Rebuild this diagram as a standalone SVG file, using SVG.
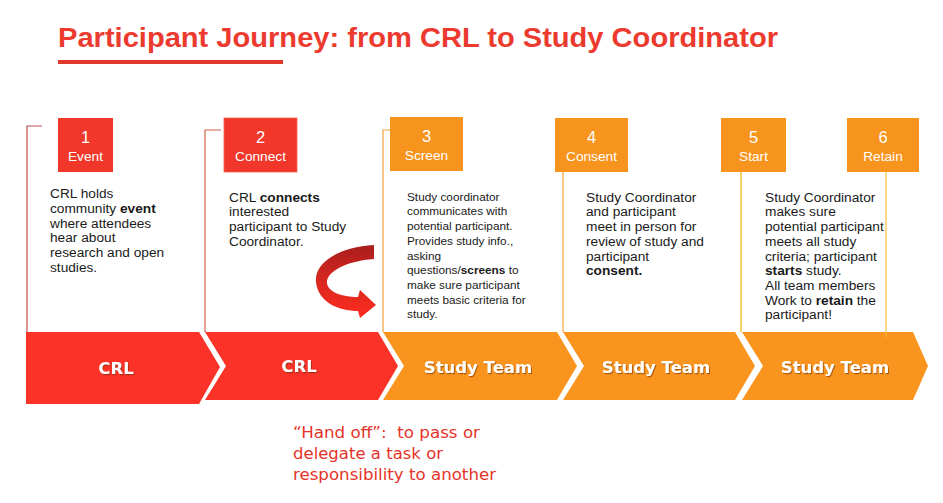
<svg xmlns="http://www.w3.org/2000/svg" width="943" height="503" viewBox="0 0 943 503">
<style>
.title{font-family:"Liberation Sans",Arial,sans-serif;font-weight:bold;font-size:27.5px;fill:#ec3a2f}
.num{font-family:"Liberation Sans",Arial,sans-serif;font-size:16.5px;fill:#fff;text-anchor:middle}
.lab{font-family:"Liberation Sans",Arial,sans-serif;font-size:13.7px;fill:#fff;text-anchor:middle}
.body{font-family:"Liberation Sans",Arial,sans-serif;font-size:13.7px;fill:#1a1a1a}
.small{font-family:"Liberation Sans",Arial,sans-serif;font-size:11.8px;fill:#1a1a1a}
.b{font-weight:bold}
.phase{font-family:"DejaVu Sans",sans-serif;font-weight:bold;font-size:16.5px;fill:#fff;text-anchor:middle}
.hand{font-family:"DejaVu Sans",sans-serif;font-size:16.5px;fill:#e63329;white-space:pre}
.red{fill:#f0372a}
.org{fill:#f7941d}
.cred{fill:#fa3228}
.corg{fill:#f9951e}
.br{fill:none;stroke-width:1.2}
</style>
<defs>
<filter id="sh" x="-10%" y="-20%" width="130%" height="150%">
<feDropShadow dx="1" dy="1.2" stdDeviation="0.6" flood-color="#6b2a00" flood-opacity="0.55"/>
</filter>
<linearGradient id="ag" x1="0" y1="0" x2="0" y2="1">
<stop offset="0" stop-color="#a81d1d"/>
<stop offset="0.45" stop-color="#d4261f"/>
<stop offset="1" stop-color="#ff2d1f"/>
</linearGradient>
</defs>
<rect width="943" height="503" fill="#fff"/>

<g id="title">
<text class="title" x="58" y="47" textLength="720" lengthAdjust="spacingAndGlyphs">Participant Journey: from CRL to Study Coordinator</text>
<rect x="58" y="60" width="225" height="4" fill="#e0392c"/>
</g>

<g id="phase-bar">
<g id="phase1"><polygon class="cred" points="26,332 199,332 220,367 199,404 26,404"/><text class="phase" x="116" y="374" filter="url(#sh)">CRL</text></g>
<g id="phase2"><polygon class="cred" points="205,332 378,332 398,366 378,400 205,400 226,366"/><text class="phase" x="299" y="372" filter="url(#sh)">CRL</text></g>
<g id="phase3"><polygon class="corg" points="383,332 557,332 577,366 557,400 383,400 404,366"/><text class="phase" x="478" y="373" filter="url(#sh)">Study Team</text></g>
<g id="phase4"><polygon class="corg" points="563,332 735,332 755,366 735,400 563,400 584,366"/><text class="phase" x="656" y="373" filter="url(#sh)">Study Team</text></g>
<g id="phase5"><polygon class="corg" points="742,332 913,332 928,366 913,400 742,400 763,366"/><text class="phase" x="835" y="373" filter="url(#sh)">Study Team</text></g>
</g>

<g id="step1">
<polyline class="br" stroke="#c0504d" points="42,126 27,126 27,332"/>
<rect class="red" x="58" y="118" width="55" height="54"/>
<text class="num" x="85.5" y="142.5">1</text>
<text class="lab" x="85.5" y="160.5">Event</text>
<text class="body" x="50">
<tspan x="50" y="198.3">CRL holds</tspan>
<tspan x="50" y="213">community <tspan class="b">event</tspan></tspan>
<tspan x="50" y="227.7">where attendees</tspan>
<tspan x="50" y="242.4">hear about</tspan>
<tspan x="50" y="257.1">research and open</tspan>
<tspan x="50" y="271.8">studies.</tspan>
</text>
</g>

<g id="step2">
<polyline class="br" stroke="#d0604a" points="221,130 205,130 205,332"/>
<rect class="red" x="224" y="118" width="73" height="54" stroke="#f4604a" stroke-width="0.8"/>
<text class="num" x="260.5" y="142.5">2</text>
<text class="lab" x="260.5" y="160.5">Connect</text>
<text class="body">
<tspan x="229" y="201.7">CRL <tspan class="b">connects</tspan></tspan>
<tspan x="229" y="216.4">interested</tspan>
<tspan x="229" y="231.1">participant to Study</tspan>
<tspan x="229" y="245.8">Coordinator.</tspan>
</text>
</g>

<g id="step3">
<polyline class="br" stroke="#f2a23a" points="390,130 383,130 383,332"/>
<rect class="org" x="390" y="117" width="73" height="54"/>
<text class="num" x="426.5" y="141.5">3</text>
<text class="lab" x="426.5" y="159.5">Screen</text>
<text class="small">
<tspan x="407" y="200.7">Study coordinator</tspan>
<tspan x="407" y="215.4">communicates with</tspan>
<tspan x="407" y="230.1">potential participant.</tspan>
<tspan x="407" y="244.8">Provides study info.,</tspan>
<tspan x="407" y="259.5">asking</tspan>
<tspan x="407" y="274.2">questions/<tspan class="b">screens</tspan> to</tspan>
<tspan x="407" y="288.9">make sure participant</tspan>
<tspan x="407" y="303.6">meets basic criteria for</tspan>
<tspan x="407" y="318.3">study.</tspan>
</text>
</g>

<g id="step4">
<line class="br" stroke="#f7a530" x1="563" y1="172" x2="563" y2="332"/>
<rect class="org" x="555" y="118" width="73" height="54"/>
<text class="num" x="591.5" y="142.5">4</text>
<text class="lab" x="591.5" y="160.5">Consent</text>
<text class="body">
<tspan x="586" y="201.7">Study Coordinator</tspan>
<tspan x="586" y="216.4">and participant</tspan>
<tspan x="586" y="231.1">meet in person for</tspan>
<tspan x="586" y="245.8">review of study and</tspan>
<tspan x="586" y="260.5">participant</tspan>
<tspan x="586" y="275.2" class="b">consent.</tspan>
</text>
</g>

<g id="step5">
<line class="br" stroke="#f5b400" x1="741" y1="172" x2="741" y2="332"/>
<rect class="org" x="721" y="118" width="65" height="54"/>
<text class="num" x="753.5" y="142.5">5</text>
<text class="lab" x="753.5" y="160.5">Start</text>
<text class="body">
<tspan x="765" y="201.7">Study Coordinator</tspan>
<tspan x="765" y="216.4">makes sure</tspan>
<tspan x="765" y="231.1">potential participant</tspan>
<tspan x="765" y="245.8">meets all study</tspan>
<tspan x="765" y="260.5">criteria; participant</tspan>
<tspan x="765" y="275.2"><tspan class="b">starts</tspan> study.</tspan>
<tspan x="765" y="289.9">All team members</tspan>
<tspan x="765" y="304.6">Work to <tspan class="b">retain</tspan> the</tspan>
<tspan x="765" y="319.3">participant!</tspan>
</text>
</g>

<g id="step6">
<line class="br" stroke="#f7bf3a" x1="886" y1="172" x2="886" y2="337"/>
<rect class="org" x="847" y="118" width="72" height="54"/>
<text class="num" x="883" y="142.5">6</text>
<text class="lab" x="883" y="160.5">Retain</text>
</g>

<g id="connectors">
<path id="handoff-arrow" fill="url(#ag)" d="M374,245 C340,247 314,262 316,282 C318,302 338,311 358,311 L360,318 L376,305 L360,290 L358,297 C342,297 328,292 327,283 C326,272 346,261 374,259 Z"/>
</g>

<g id="handoff-note">
<text class="hand" xml:space="preserve"><tspan x="293" y="437.5" textLength="187" lengthAdjust="spacingAndGlyphs">“Hand off”:  to pass or</tspan><tspan x="293" y="458.5">delegate a task or</tspan><tspan x="293" y="479.5" textLength="203" lengthAdjust="spacingAndGlyphs">responsibility to another</tspan></text>
</g>
</svg>
